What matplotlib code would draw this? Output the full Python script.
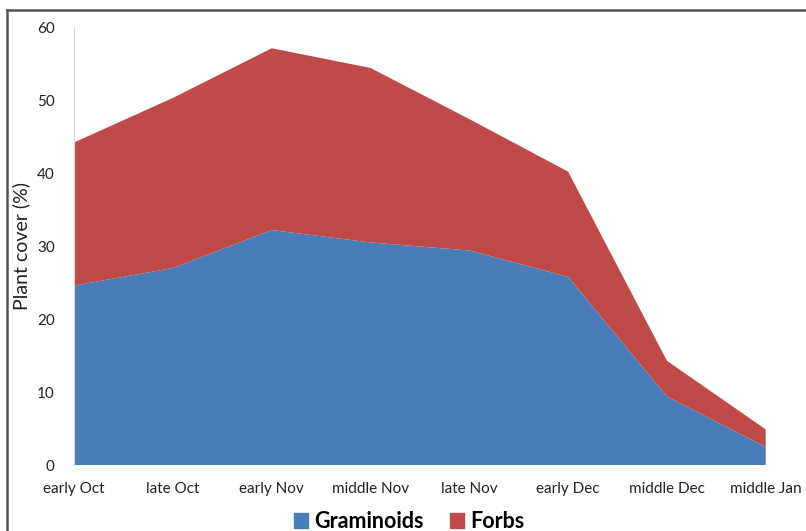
import matplotlib.pyplot as plt
from matplotlib.lines import Line2D

periods = ['early Oct', 'late Oct', 'early Nov', 'middle Nov', 'late Nov',
           'early Dec', 'middle Dec', 'middle Jan']
graminoids = [24.6, 27.0, 32.2, 30.5, 29.4, 25.8, 9.4, 2.5]
total = [44.2, 50.3, 57.1, 54.4, 47.4, 40.2, 14.3, 4.9]
forbs = [t - g for t, g in zip(total, graminoids)]

blue = '#4A7EBB'
red = '#BE4B48'

plt.rcParams['font.family'] = ['Lato', 'DejaVu Sans']

fig = plt.figure(figsize=(8.06, 5.31), dpi=100)
ax = fig.add_axes([0.092, 0.124, 0.858, 0.825])

x = range(len(periods))
ax.stackplot(x, graminoids, forbs, colors=[blue, red], labels=['Graminoids', 'Forbs'])

ax.set_xlim(0, len(periods) - 1)
ax.set_ylim(0, 60)
ax.set_yticks(range(0, 61, 10))
ax.set_xticks(list(x))
ax.set_xticklabels(periods)
ax.tick_params(length=0, labelsize=11, colors='#222222')
ax.tick_params(axis='x', pad=12)
ax.tick_params(axis='y', pad=14)
for s in ['top', 'right', 'bottom']:
    ax.spines[s].set_visible(False)
ax.spines['left'].set_color('#d9d9d9')
ax.set_ylabel('Plant cover (%)', fontsize=14, color='#222222')
ax.yaxis.set_label_coords(-0.063, 0.5)

handles = [plt.Rectangle((0, 0), 1, 1, color=blue), plt.Rectangle((0, 0), 1, 1, color=red)]
fig.legend(handles, ['Graminoids', 'Forbs'], loc='center', bbox_to_anchor=(0.508, 0.018),
           ncol=2, frameon=False, prop={'weight': 'bold', 'size': 15.5},
           handlelength=0.65, handleheight=0.65, handletextpad=0.3, columnspacing=1.2)

# outer frame (cut at right and bottom like the source image)
fig.add_artist(Line2D([7 / 806, 1], [1 - 10 / 531] * 2, transform=fig.transFigure, color='#555555', lw=1.8))
fig.add_artist(Line2D([7 / 806] * 2, [0, 1 - 10 / 531], transform=fig.transFigure, color='#555555', lw=1.8))

fig.savefig('out.png', dpi=100)
